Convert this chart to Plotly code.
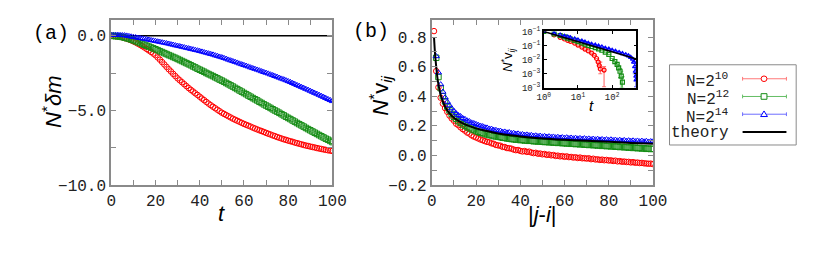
import plotly.graph_objects as go

# ---------------- data: panel (a) ----------------
t_a = list(range(0, 101))
dm_N10 = [0.00, -0.01, -0.02, -0.04, -0.07, -0.10, -0.14, -0.19, -0.24, -0.30,
          -0.37, -0.44, -0.52, -0.60, -0.69, -0.78, -0.88, -0.98, -1.08, -1.19,
          -1.30, -1.45, -1.60, -1.76, -1.92, -2.08, -2.24, -2.39, -2.55, -2.70,
          -2.85, -2.98, -3.11, -3.24, -3.37, -3.50, -3.62, -3.73, -3.85, -3.96,
          -4.08, -4.20, -4.31, -4.43, -4.54, -4.65, -4.75, -4.85, -4.95, -5.05,
          -5.15, -5.23, -5.31, -5.39, -5.47, -5.55, -5.62, -5.69, -5.76, -5.83,
          -5.90, -5.96, -6.02, -6.08, -6.15, -6.21, -6.27, -6.33, -6.38, -6.44,
          -6.50, -6.56, -6.61, -6.67, -6.72, -6.78, -6.83, -6.88, -6.93, -6.97,
          -7.02, -7.06, -7.10, -7.15, -7.19, -7.23, -7.27, -7.31, -7.35, -7.38,
          -7.42, -7.45, -7.48, -7.52, -7.55, -7.58, -7.61, -7.64, -7.67, -7.69,
          -7.72]
dm_N12 = [0.00, -0.01, -0.02, -0.04, -0.06, -0.08, -0.12, -0.16, -0.20, -0.25,
          -0.30, -0.36, -0.42, -0.48, -0.54, -0.60, -0.66, -0.72, -0.78, -0.84,
          -0.90, -0.96, -1.03, -1.09, -1.16, -1.22, -1.29, -1.35, -1.42, -1.48,
          -1.55, -1.62, -1.69, -1.76, -1.83, -1.90, -1.97, -2.05, -2.12, -2.20,
          -2.27, -2.34, -2.41, -2.49, -2.56, -2.63, -2.70, -2.78, -2.85, -2.93,
          -3.00, -3.08, -3.16, -3.24, -3.32, -3.40, -3.49, -3.57, -3.66, -3.74,
          -3.83, -3.91, -4.00, -4.08, -4.17, -4.25, -4.33, -4.42, -4.50, -4.59,
          -4.67, -4.75, -4.83, -4.92, -5.00, -5.08, -5.16, -5.25, -5.33, -5.42,
          -5.50, -5.58, -5.67, -5.75, -5.84, -5.92, -6.00, -6.08, -6.17, -6.25,
          -6.33, -6.41, -6.49, -6.57, -6.65, -6.73, -6.81, -6.89, -6.96, -7.04,
          -7.12]
dm_N14 = [0.06, 0.06, 0.06, 0.06, 0.05, 0.04, 0.03, 0.01, -0.02, -0.05,
          -0.08, -0.10, -0.13, -0.15, -0.18, -0.20, -0.23, -0.26, -0.29, -0.32,
          -0.35, -0.38, -0.41, -0.44, -0.47, -0.50, -0.53, -0.57, -0.60, -0.64,
          -0.67, -0.70, -0.74, -0.77, -0.81, -0.84, -0.88, -0.91, -0.95, -0.98,
          -1.02, -1.06, -1.10, -1.14, -1.18, -1.22, -1.26, -1.31, -1.35, -1.40,
          -1.44, -1.49, -1.54, -1.60, -1.65, -1.70, -1.75, -1.80, -1.86, -1.91,
          -1.96, -2.01, -2.06, -2.12, -2.17, -2.22, -2.27, -2.32, -2.38, -2.43,
          -2.48, -2.53, -2.59, -2.64, -2.70, -2.75, -2.81, -2.87, -2.92, -2.98,
          -3.04, -3.10, -3.17, -3.23, -3.30, -3.36, -3.43, -3.49, -3.56, -3.62,
          -3.69, -3.76, -3.83, -3.89, -3.96, -4.03, -4.10, -4.17, -4.24, -4.31,
          -4.38]
theory_a_t = [0, 100]
theory_a = [0.0, 0.0]

# ---------------- data: panel (b) ----------------
d_N10 = list(range(1, 101))
v_N10 = [0.84, 0.57, 0.46, 0.39, 0.35, 0.32, 0.295, 0.27, 0.25, 0.235,
         0.215, 0.205, 0.19, 0.178, 0.168, 0.155, 0.148, 0.136, 0.128, 0.122,
         0.115, 0.108, 0.103, 0.097, 0.092, 0.089, 0.082, 0.079, 0.071, 0.068,
         0.066, 0.058, 0.057, 0.050, 0.049, 0.046, 0.040, 0.036, 0.037, 0.031,
         0.027, 0.030, 0.024, 0.026, 0.020, 0.016, 0.018, 0.012, 0.013, 0.008,
         0.010, 0.004, 0.006, 0.001, 0.003, -0.003, -0.001, -0.006, -0.004, -0.009,
         -0.006, -0.011, -0.010, -0.014, -0.012, -0.017, -0.014, -0.019, -0.018, -0.021,
         -0.019, -0.025, -0.022, -0.027, -0.026, -0.030, -0.028, -0.032, -0.030, -0.034,
         -0.033, -0.037, -0.035, -0.040, -0.038, -0.042, -0.041, -0.044, -0.043, -0.047,
         -0.045, -0.049, -0.048, -0.051, -0.050, -0.053, -0.054, -0.056, -0.055, -0.058]
d_N12 = list(range(2, 101))
v_N12 = [0.66, 0.53, 0.455, 0.40, 0.365, 0.33, 0.305, 0.28, 0.262,
         0.248, 0.232, 0.222, 0.21, 0.20, 0.192, 0.185, 0.177, 0.172, 0.165,
         0.16, 0.154, 0.151, 0.145, 0.142, 0.138, 0.136, 0.131, 0.129, 0.126,
         0.124, 0.12, 0.119, 0.115, 0.114, 0.111, 0.11, 0.107, 0.108, 0.104,
         0.105, 0.101, 0.102, 0.099, 0.10, 0.096, 0.097, 0.094, 0.095, 0.093,
         0.091, 0.092, 0.089, 0.09, 0.087, 0.088, 0.085, 0.086, 0.083, 0.084,
         0.081, 0.082, 0.079, 0.08, 0.077, 0.079, 0.075, 0.077, 0.073, 0.074,
         0.071, 0.073, 0.069, 0.071, 0.067, 0.069, 0.065, 0.067, 0.063, 0.065,
         0.061, 0.063, 0.059, 0.061, 0.057, 0.059, 0.055, 0.057, 0.053, 0.055,
         0.051, 0.053, 0.049, 0.051, 0.047, 0.049, 0.045, 0.047, 0.044, 0.045]
d_N14 = list(range(2, 101))
v_N14 = [0.67, 0.56, 0.48, 0.43, 0.392, 0.362, 0.338, 0.318, 0.30,
         0.285, 0.272, 0.265, 0.252, 0.246, 0.236, 0.231, 0.222, 0.218, 0.212,
         0.206, 0.201, 0.197, 0.19, 0.188, 0.181, 0.18, 0.173, 0.172, 0.166,
         0.167, 0.16, 0.161, 0.155, 0.157, 0.15, 0.152, 0.146, 0.148, 0.142,
         0.144, 0.139, 0.141, 0.136, 0.138, 0.133, 0.135, 0.13, 0.133, 0.128,
         0.131, 0.126, 0.129, 0.124, 0.127, 0.122, 0.125, 0.12, 0.123, 0.119,
         0.122, 0.117, 0.12, 0.115, 0.119, 0.114, 0.117, 0.112, 0.116, 0.111,
         0.114, 0.109, 0.113, 0.108, 0.112, 0.107, 0.11, 0.105, 0.109, 0.104,
         0.108, 0.103, 0.106, 0.101, 0.105, 0.10, 0.104, 0.099, 0.102, 0.098,
         0.101, 0.096, 0.10, 0.095, 0.099, 0.094, 0.098, 0.093, 0.096, 0.094]
theory_b_d = [1, 1.5, 2, 2.5, 3, 4, 5, 6, 8, 10, 12, 15, 20, 25, 30, 40, 50, 60, 70, 80, 90, 100]
theory_b = [0.80, 0.68, 0.60, 0.53, 0.48, 0.41, 0.365, 0.33, 0.285, 0.255, 0.235, 0.21,
            0.183, 0.165, 0.148, 0.128, 0.115, 0.106, 0.099, 0.092, 0.085, 0.079]

# ---------------- data: inset ----------------
ins_t_N10 = [1, 2, 3, 4, 5, 6, 8, 10, 13, 16, 20, 25, 30, 35, 39, 42, 45, 58]
ins_v_N10 = [0.158, 0.112, 0.0891, 0.0759, 0.0661, 0.0603, 0.0501, 0.0417, 0.0339,
             0.0282, 0.0234, 0.0191, 0.0151, 0.0112, 0.0079, 0.0056, 0.0040, 0.0036]
ins_ep_N10 = [0] * 16 + [0.0039, 0.0014]
ins_em_N10 = [0] * 16 + [0.0015, 0.0029]

ins_t_N12 = [1, 2, 3, 4, 5, 6, 8, 10, 13, 16, 20, 25, 32, 40, 50, 63, 80, 100,
             120, 140, 155, 170, 185, 200]
ins_v_N12 = [0.158, 0.126, 0.107, 0.0933, 0.0832, 0.0759, 0.0661, 0.0589, 0.0513,
             0.0457, 0.0407, 0.0363, 0.0324, 0.0288, 0.0251, 0.0209, 0.0166, 0.0112,
             0.0083, 0.0063, 0.0045, 0.0032, 0.0020, 0.0011]
ins_ep_N12 = [0] * 21 + [0.0010, 0.0012, 0.0008]
ins_em_N12 = [0] * 21 + [0.0015, 0.0014, 0.0005]

ins_t_N14 = [1, 2, 3, 4, 5, 6, 8, 10, 13, 16, 20, 25, 32, 40, 50, 63, 80, 100,
             125, 160, 200, 250, 300, 350, 400, 430, 460, 480, 500, 510]
ins_v_N14 = [0.158, 0.132, 0.112, 0.100, 0.0933, 0.0851, 0.0759, 0.0692, 0.0617,
             0.0562, 0.0501, 0.0457, 0.0417, 0.0380, 0.0347, 0.0309, 0.0282, 0.0251,
             0.0229, 0.0204, 0.0182, 0.0162, 0.0145, 0.0126, 0.0105, 0.0079, 0.0050,
             0.0032, 0.0020, 0.0014]
ins_ep_N14 = [0] * 26 + [0.0020, 0.0015, 0.0010, 0.0008]
ins_em_N14 = [0] * 26 + [0.0025, 0.0020, 0.0013, 0.0007]

ins_theory_t = [1, 10, 100, 512]
ins_theory_v = [0.158, 0.0589, 0.0219, 0.0107]

# ---------------- labels ----------------
legend_labels = ["N=2<sup>10</sup>", "N=2<sup>12</sup>", "N=2<sup>14</sup>", "theory"]
a_xticks = list(range(0, 101, 10))
a_xtext = ["0", "", "20", "", "40", "", "60", "", "80", "", "100"]
a_yticks = [-10, -7.5, -5, -2.5, 0]
a_ytext = ["\u221210.0", "", "\u22125.0", "", "0.0"]
b_yticks = [-0.2, -0.1, 0, 0.1, 0.2, 0.3, 0.4, 0.5, 0.6, 0.7, 0.8]
b_ytext = ["\u22120.2", "", "0.0", "", "0.2", "", "0.4", "", "0.6", "", "0.8"]
ins_xticks = [1, 10, 100]
ins_xtext = ["10<sup>0</sup>", "10<sup>1</sup>", "10<sup>2</sup>"]
ins_yticks = [10 ** -0.8, 10 ** -1.4, 10 ** -2.0, 10 ** -2.6, 10 ** -3.2]
ins_ytext = ["10<sup>\u22121</sup>", "10<sup>\u22121</sup>", "10<sup>\u22122</sup>",
             "10<sup>\u22123</sup>", "10<sup>\u22123</sup>"]

RED = "rgb(255,0,0)"
GREEN = "rgb(20,140,20)"
BLUE = "rgb(0,0,255)"
RED_L = "rgb(255,120,120)"
GREEN_L = "rgb(100,190,100)"
BLUE_L = "rgb(110,110,255)"
MONO = "Liberation Mono, Courier New, monospace"
SANS = "Liberation Sans, Arial, sans-serif"

W, H = 817, 253
def px(x):
    return x / W
def py(y):
    return 1 - y / H

fig = go.Figure()

def mk(symbol, color, size=5.5, lw=1):
    return dict(symbol=symbol, size=size, color=color, line=dict(color=color, width=lw))

# panel (a)
fig.add_trace(go.Scatter(x=theory_a_t, y=theory_a, mode="lines", line=dict(color="black", width=1.5),
                         xaxis="x", yaxis="y"))
fig.add_trace(go.Scatter(x=t_a, y=dm_N10, mode="markers", marker=mk("circle-open", RED), xaxis="x", yaxis="y"))
fig.add_trace(go.Scatter(x=t_a, y=dm_N12, mode="markers", marker=mk("square-open", GREEN), xaxis="x", yaxis="y"))
fig.add_trace(go.Scatter(x=t_a, y=dm_N14, mode="markers", marker=mk("triangle-up-open", BLUE), xaxis="x", yaxis="y"))

# panel (b)
fig.add_trace(go.Scatter(x=d_N10, y=v_N10, mode="markers", marker=mk("circle-open", RED), xaxis="x2", yaxis="y2"))
fig.add_trace(go.Scatter(x=d_N12, y=v_N12, mode="markers", marker=mk("square-open", GREEN), xaxis="x2", yaxis="y2"))
fig.add_trace(go.Scatter(x=d_N14, y=v_N14, mode="markers", marker=mk("triangle-up-open", BLUE), xaxis="x2", yaxis="y2"))
fig.add_trace(go.Scatter(x=theory_b_d, y=theory_b, mode="lines", line=dict(color="black", width=2, shape="spline"),
                         xaxis="x2", yaxis="y2"))

# inset
def ins_trace(t, v, ep, em, sym, col, colL):
    return go.Scatter(x=t, y=v, mode="markers", marker=mk(sym, col, size=4, lw=1.2),
                      error_y=dict(type="data", array=ep, arrayminus=em, color=colL, thickness=1.2, width=2),
                      xaxis="x3", yaxis="y3")
fig.add_trace(ins_trace(ins_t_N10, ins_v_N10, ins_ep_N10, ins_em_N10, "circle-open", RED, RED_L))
fig.add_trace(ins_trace(ins_t_N12, ins_v_N12, ins_ep_N12, ins_em_N12, "square-open", GREEN, GREEN_L))
fig.add_trace(ins_trace(ins_t_N14, ins_v_N14, ins_ep_N14, ins_em_N14, "triangle-up-open", BLUE, BLUE_L))
fig.add_trace(go.Scatter(x=ins_theory_t, y=ins_theory_v, mode="lines", line=dict(color="black", width=1.5),
                         xaxis="x3", yaxis="y3"))

main_ax = dict(showline=True, linecolor="#8a8a8a", linewidth=2, mirror="allticks", ticks="inside",
               ticklen=5, tickwidth=1, tickcolor="#8a8a8a", showgrid=False, zeroline=False,
               tickfont=dict(family=MONO, size=16, color="#222"))
ins_ax = dict(showline=True, linecolor="black", linewidth=1.5, mirror="allticks", ticks="inside",
              ticklen=3, tickwidth=1, tickcolor="black", showgrid=False, zeroline=False,
              tickfont=dict(family=MONO, size=9, color="#222"))

fig.update_layout(
    width=W, height=H, margin=dict(l=0, r=0, t=0, b=0),
    paper_bgcolor="white", plot_bgcolor="white", showlegend=False,
    xaxis=dict(domain=[px(107), px(334)], range=[0, 100], anchor="y",
               tickmode="array", tickvals=a_xticks, ticktext=a_xtext, **main_ax),
    yaxis=dict(domain=[py(192), py(15)], range=[-10, 1.06], anchor="x",
               tickmode="array", tickvals=a_yticks, ticktext=a_ytext, **main_ax),
    xaxis2=dict(domain=[px(436), px(663)], range=[0, 100], anchor="y2",
                tickmode="array", tickvals=a_xticks, ticktext=a_xtext, **main_ax),
    yaxis2=dict(domain=[py(192), py(15)], range=[-0.2, 0.915], anchor="x2",
                tickmode="array", tickvals=b_yticks, ticktext=b_ytext, **main_ax),
    xaxis3=dict(domain=[px(551), px(646)], type="log", range=[0, 2.71], anchor="y3",
                tickmode="array", tickvals=ins_xticks, ticktext=ins_xtext, **ins_ax),
    yaxis3=dict(domain=[py(87.7), py(27.3)], type="log", range=[-3.2, -0.8], anchor="x3",
                tickmode="array", tickvals=ins_yticks, ticktext=ins_ytext, **ins_ax),
)

ann = []
def text(x, y, s, size, family=SANS, angle=0, xanchor="center", color="black"):
    ann.append(dict(x=px(x), y=py(y), xref="paper", yref="paper", text=s, showarrow=False,
                    font=dict(family=family, size=size, color=color), textangle=angle,
                    xanchor=xanchor, yanchor="middle"))

text(45, 29, "(a)", 20, family=MONO)
text(374, 27, "(b)", 20, family=MONO)
text(46, 103, "<i>N</i><sup>*</sup><i>\u03b4m</i>", 22, angle=-90)
text(383, 96, "<i>N</i><sup>*</sup>v<sub><i>ij</i></sub>", 22, angle=-90)
text(220, 222, "<i>t</i>", 22)
text(550, 224, "|<i>j</i>-<i>i</i>|", 22)
text(514, 58, "<i>N</i><sup>*</sup>v<sub><i>ij</i></sub>", 13, angle=-90)
text(600, 107, "<i>t</i>", 15)

# legend (drawn by hand: label on the left, key on the right)
shapes = [dict(type="rect", xref="paper", yref="paper", x0=px(680), x1=px(810), y0=py(149), y1=py(63),
               line=dict(color="#8a8a8a", width=1), fillcolor="white", layer="above")]
rows = [78, 97, 116, 135]
keycols = [(RED_L, RED), (GREEN_L, GREEN), (BLUE_L, BLUE), ("black", "black")]
for i, (lab, yy, (lc, mc)) in enumerate(zip(legend_labels, rows, keycols)):
    text(743, yy + (1 if i == 3 else 2), lab, 16, family=MONO, xanchor="right", color="#222")
    shapes.append(dict(type="line", xref="paper", yref="paper", x0=px(755), x1=px(800), y0=py(yy), y1=py(yy),
                       line=dict(color=lc, width=2 if i == 3 else 1)))
    if i < 3:
        for xc in (755, 800):
            shapes.append(dict(type="line", xref="paper", yref="paper", x0=px(xc), x1=px(xc),
                               y0=py(yy - 2), y1=py(yy + 2), line=dict(color=lc, width=1)))
    if i == 0:
        shapes.append(dict(type="circle", xref="paper", yref="paper", x0=px(774), x1=px(780),
                           y0=py(yy + 3), y1=py(yy - 3), line=dict(color=mc, width=1), fillcolor="white"))
    elif i == 1:
        shapes.append(dict(type="rect", xref="paper", yref="paper", x0=px(774), x1=px(780),
                           y0=py(yy + 3), y1=py(yy - 3), line=dict(color=mc, width=1), fillcolor="white"))
    elif i == 2:
        path = "M {} {} L {} {} L {} {} Z".format(px(777), py(yy - 3.5), px(773.5), py(yy + 2.5), px(780.5), py(yy + 2.5))
        shapes.append(dict(type="path", xref="paper", yref="paper", path=path,
                           line=dict(color=mc, width=1), fillcolor="white"))

fig.update_layout(annotations=ann, shapes=shapes)
fig.write_html(
    "out.html",
    config={"displayModeBar": False},
    default_width="817px", default_height="253px",
    post_script="document.body.style.margin='0px';document.body.style.overflow='hidden';"
                "document.documentElement.style.overflow='hidden';",
)
